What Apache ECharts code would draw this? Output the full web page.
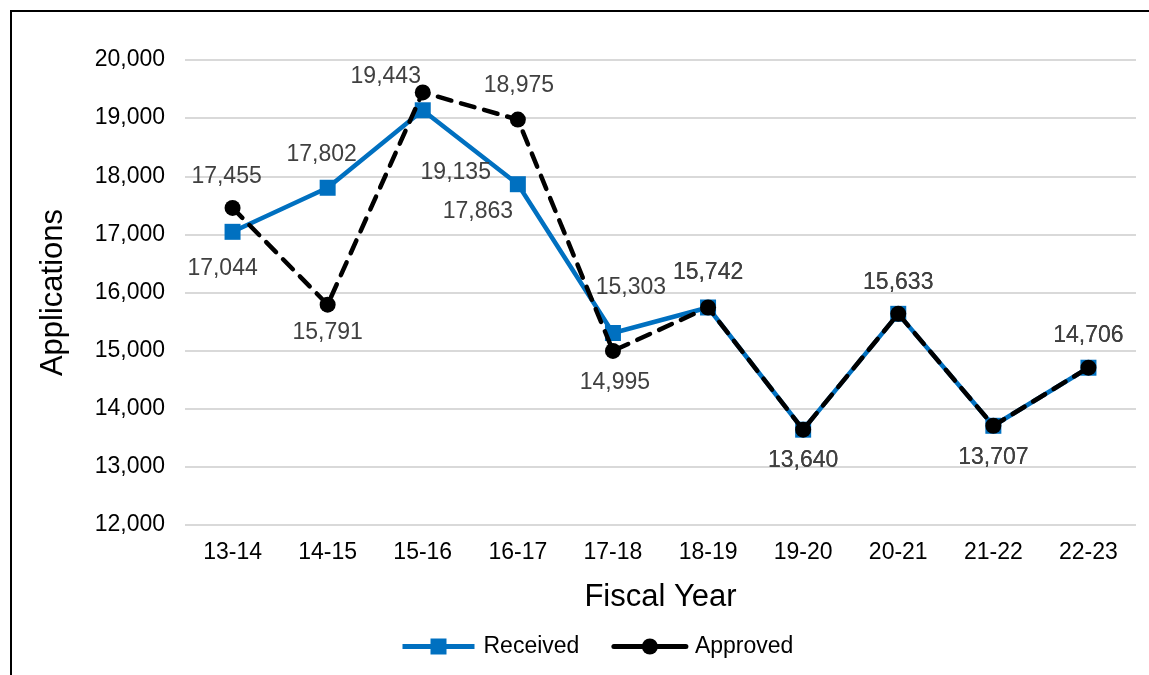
<!DOCTYPE html>
<html>
<head>
<meta charset="utf-8">
<script src="https://cdn.jsdelivr.net/npm/echarts@6/dist/echarts.min.js"></script>
<style>
  html, body { margin: 0; padding: 0; background: #fff; }
  #chart { width: 1149px; height: 675px; }
</style>
</head>
<body>
<div id="chart"></div>
<script>
// Fiscal years on the x axis
const fiscalYears = ['13-14', '14-15', '15-16', '16-17', '17-18', '18-19', '19-20', '20-21', '21-22', '22-23'];
// Applications received and approved per fiscal year
const received = [17044, 17802, 19135, 17863, 15303, 15742, 13640, 15633, 13707, 14706];
const approved = [17455, 15791, 19443, 18975, 14995, 15742, 13640, 15633, 13707, 14706];

// Value label placement (pixel offsets from each marker centre)
const receivedLabelOffsets = [[-10, 37], [-6, -33], [33, 62], [-40, 27], [18, -45], [0, -35], [0, 31], [0, -31], [0, 32], [0, -32]];
const approvedLabelOffsets = [[-6, -31], [0, 28], [-37, -16], [1, -34], [2, 32], [0, -35], [0, 31], [0, -31], [0, 32], [0, -32]];

const fmt = v => v.toLocaleString('en-US');
const FONT = 'Liberation Sans, Arial, sans-serif';

function withLabels(values, offsets) {
  return values.map((v, i) => ({
    value: v,
    label: { offset: offsets[i] }
  }));
}

const chart = echarts.init(document.getElementById('chart'));
chart.setOption({
  animation: false,
  textStyle: { fontFamily: FONT },
  grid: { left: 185, right: 13, top: 60, bottom: 150 },
  graphic: [{
    type: 'polyline',
    shape: { points: [[11, 675], [11, 11], [1149, 11]] },
    style: { stroke: '#000', lineWidth: 2, fill: null }
  }],
  legend: {
    top: 630,
    left: 395,
    itemWidth: 72,
    itemHeight: 20,
    itemGap: 32,
    textStyle: { fontSize: 23, color: '#000', fontFamily: FONT, padding: [0, 0, 0, 4] },
    data: [
      { name: 'Received', lineStyle: { width: 5 } },
      { name: 'Approved', lineStyle: { width: 5, type: 'solid' } }
    ]
  },
  xAxis: {
    type: 'category',
    data: fiscalYears,
    boundaryGap: true,
    name: 'Fiscal Year',
    nameLocation: 'middle',
    nameGap: 57,
    nameTextStyle: { fontSize: 31, color: '#000', fontFamily: FONT },
    axisLine: { show: false },
    axisTick: { show: false },
    axisLabel: { fontSize: 23, color: '#000', margin: 16, fontFamily: FONT }
  },
  yAxis: {
    type: 'value',
    min: 12000,
    max: 20000,
    interval: 1000,
    name: 'Applications',
    nameLocation: 'middle',
    nameGap: 116,
    nameRotate: 90,
    nameTextStyle: { fontSize: 31, color: '#000', fontFamily: FONT },
    axisLine: { show: false },
    axisTick: { show: false },
    axisLabel: { fontSize: 23, color: '#000', margin: 20, formatter: v => fmt(v), fontFamily: FONT },
    splitLine: { lineStyle: { color: '#d9d9d9', width: 2 } }
  },
  series: [
    {
      name: 'Received',
      type: 'line',
      data: withLabels(received, receivedLabelOffsets),
      symbol: 'rect',
      symbolSize: 16,
      itemStyle: { color: '#0070C0' },
      lineStyle: { color: '#0070C0', width: 4.5 },
      label: {
        show: true,
        position: 'inside',
        formatter: p => fmt(p.value),
        fontSize: 23,
        color: '#404040',
        fontFamily: FONT
      },
      z: 2
    },
    {
      name: 'Approved',
      type: 'line',
      data: withLabels(approved, approvedLabelOffsets),
      symbol: 'circle',
      symbolSize: 16,
      itemStyle: { color: '#000' },
      lineStyle: { color: '#000', width: 4.5, type: [14, 10], cap: 'round' },
      label: {
        show: true,
        position: 'inside',
        formatter: p => fmt(p.value),
        fontSize: 23,
        color: '#404040',
        fontFamily: FONT
      },
      z: 3
    }
  ]
});
</script>
</body>
</html>
